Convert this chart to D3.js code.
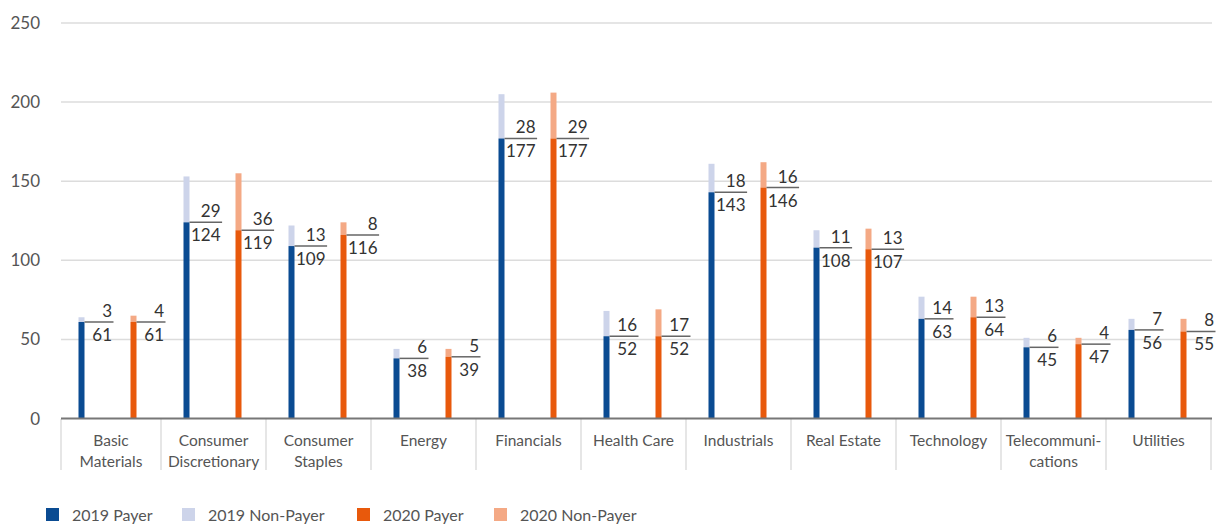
<!DOCTYPE html>
<html>
<head>
<meta charset="utf-8">
<script src="https://cdn.jsdelivr.net/npm/d3@7"></script>
<style>
  html, body { margin: 0; padding: 0; background: #fff; }
  svg { display: block; font-family: Lato, "Open Sans", sans-serif; }
</style>
</head>
<body>
<svg id="chart" width="1218" height="526"></svg>
<script>
// Dividend payers vs non-payers by sector, 2019 and 2020
const categories = ["Basic Materials", "Consumer Discretionary", "Consumer Staples", "Energy",
  "Financials", "Health Care", "Industrials", "Real Estate", "Technology",
  "Telecommunications", "Utilities"];
const categoryLines = [["Basic", "Materials"], ["Consumer", "Discretionary"], ["Consumer", "Staples"],
  ["Energy"], ["Financials"], ["Health Care"], ["Industrials"], ["Real Estate"], ["Technology"],
  ["Telecommuni-", "cations"], ["Utilities"]];
const years = ["2019", "2020"];
const payer2019    = [61, 124, 109, 38, 177, 52, 143, 108, 63, 45, 56];
const nonPayer2019 = [3, 29, 13, 6, 28, 16, 18, 11, 14, 6, 7];
const payer2020    = [61, 119, 116, 39, 177, 52, 146, 107, 64, 47, 55];
const nonPayer2020 = [4, 36, 8, 5, 29, 17, 16, 13, 13, 4, 8];
const yTicks = [0, 50, 100, 150, 200, 250];
const legendLabels = ["2019 Payer", "2019 Non-Payer", "2020 Payer", "2020 Non-Payer"];

const colors = {
  "2019": { payer: "#0a4b92", non: "#cdd4ea" },
  "2020": { payer: "#e8590c", non: "#f4a985" }
};

const svg = d3.select("#chart");
const axisLeft = 61, axisRight = 1212;

const x = d3.scaleBand().domain(categories).range([56, 1211]).paddingInner(0).paddingOuter(0);
const x1 = d3.scalePoint().domain(years).range([25.5, 77.5]);
const y = d3.scaleLinear().domain([0, 250]).range([418.5, 23]);
const barW = 6;

// Gridlines and y tick labels
const grid = svg.append("g");
grid.selectAll("line").data(yTicks.filter(t => t > 0)).join("line")
  .attr("x1", axisLeft).attr("x2", axisRight)
  .attr("y1", d => y(d)).attr("y2", d => y(d))
  .attr("stroke", "#dcdcdc").attr("stroke-width", 1.5);
grid.selectAll("text").data(yTicks).join("text")
  .attr("x", 40).attr("y", d => y(d) + 6)
  .attr("text-anchor", "end")
  .attr("font-size", 17).attr("fill", "#555")
  .text(d => d);

// Category separators and labels
const sepX = [axisLeft].concat(categories.map(c => x(c) + x.bandwidth()));
svg.append("g").selectAll("line").data(sepX).join("line")
  .attr("x1", d => d).attr("x2", d => d)
  .attr("y1", 419).attr("y2", 470)
  .attr("stroke", "#dedede").attr("stroke-width", 1.5);

const catG = svg.append("g");
categories.forEach((c, i) => {
  const left = Math.max(x(c), axisLeft);
  const cx = (left + x(c) + x.bandwidth()) / 2;
  const t = catG.append("text")
    .attr("x", cx).attr("y", 446)
    .attr("text-anchor", "middle")
    .attr("font-size", 15.5).attr("fill", "#555");
  categoryLines[i].forEach((ln, k) => {
    t.append("tspan").attr("x", cx).attr("dy", k === 0 ? 0 : 21).text(ln);
  });
});

// Bars: payer segment with non-payer stacked on top
const rows = [];
categories.forEach((c, i) => {
  rows.push({ cat: c, year: "2019", payer: payer2019[i], non: nonPayer2019[i] });
  rows.push({ cat: c, year: "2020", payer: payer2020[i], non: nonPayer2020[i] });
});
const barX = d => x(d.cat) + x1(d.year) - barW / 2;

const bars = svg.append("g");
bars.selectAll("rect.non").data(rows).join("rect")
  .attr("class", "non")
  .attr("x", barX).attr("width", barW)
  .attr("y", d => y(d.payer + d.non))
  .attr("height", d => y(d.payer) - y(d.payer + d.non))
  .attr("fill", d => colors[d.year].non);
bars.selectAll("rect.payer").data(rows).join("rect")
  .attr("class", "payer")
  .attr("x", barX).attr("width", barW)
  .attr("y", d => y(d.payer))
  .attr("height", d => y(0) - y(d.payer))
  .attr("fill", d => colors[d.year].payer);

// Baseline
svg.append("line")
  .attr("x1", axisLeft).attr("x2", axisRight)
  .attr("y1", y(0)).attr("y2", y(0))
  .attr("stroke", "#777").attr("stroke-width", 2);

// Value labels: non-payer above a rule, payer below, at the payer height
const lab = svg.append("g");
rows.forEach(d => {
  const x0 = barX(d) + barW;
  const yy = y(d.payer);
  const g = lab.append("g");
  const top = g.append("text").attr("y", yy - 5).attr("text-anchor", "end")
    .attr("font-size", 17).attr("fill", "#333").text(d.non);
  const bot = g.append("text").attr("y", yy + 19).attr("text-anchor", "end")
    .attr("font-size", 17).attr("fill", "#333").text(d.payer);
  const w = Math.max(top.node().getComputedTextLength(), bot.node().getComputedTextLength());
  const len = Math.max(29, w + 3);
  top.attr("x", x0 + len - 1.5);
  bot.attr("x", x0 + len - 1.5);
  g.append("line").attr("x1", x0).attr("x2", x0 + len)
    .attr("y1", yy).attr("y2", yy)
    .attr("stroke", "#666").attr("stroke-width", 1.5);
});

// Legend
const legendColors = [colors["2019"].payer, colors["2019"].non, colors["2020"].payer, colors["2020"].non];
const legendX = [46, 182, 357, 494];
const lg = svg.append("g");
legendLabels.forEach((l, i) => {
  lg.append("rect").attr("x", legendX[i]).attr("y", 508).attr("width", 13).attr("height", 13)
    .attr("fill", legendColors[i]);
  lg.append("text").attr("x", legendX[i] + 26).attr("y", 521)
    .attr("font-size", 16).attr("fill", "#555").text(l);
});
</script>
</body>
</html>
